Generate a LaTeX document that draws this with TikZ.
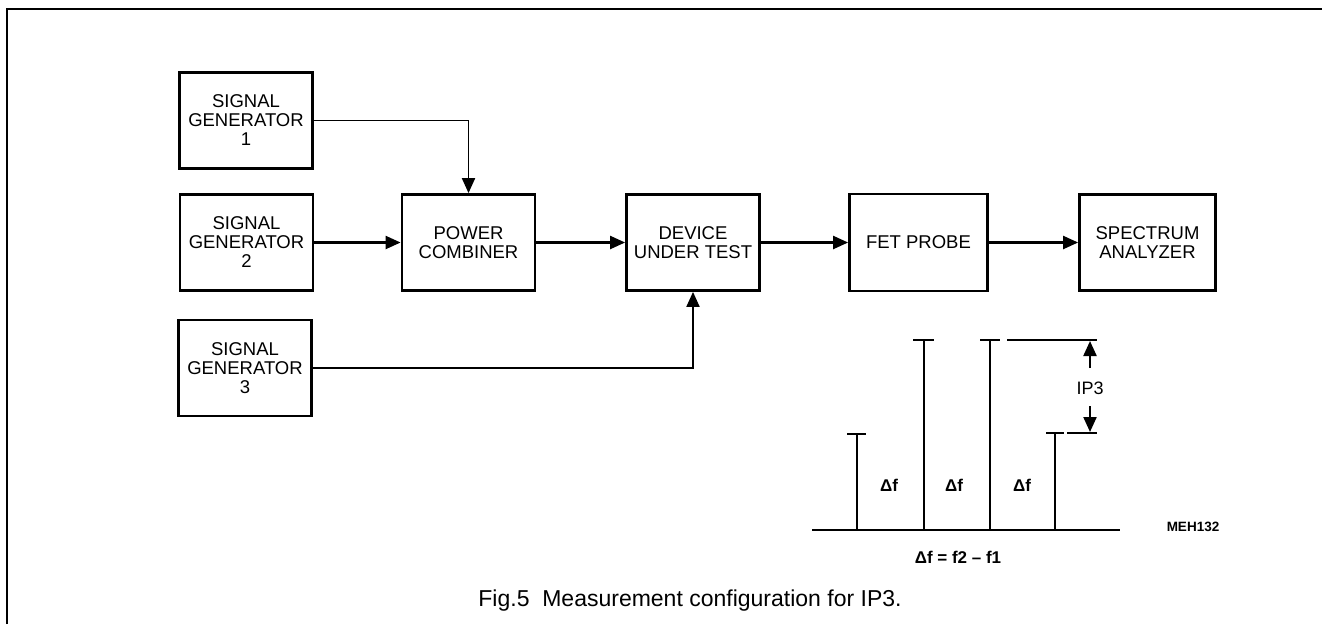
\documentclass[tikz,border=0pt]{standalone}
\usepackage{fontspec}
\setmainfont{Liberation Sans}
\usetikzlibrary{arrows.meta}
\begin{document}
\begin{tikzpicture}[x=1pt,y=-1pt,
  blk/.style={draw, line width=2.8pt, minimum width=133pt, minimum height=96pt,
    inner sep=0pt, align=center, font=\fontsize{18.5}{19}\selectfont},
  conn/.style={line width=2.2pt, -{Triangle[length=15pt,width=13pt]}},
  thinconn/.style={conn, line width=1.9pt},
  bar/.style={line width=2.2pt},
  barcap/.style={line width=2.5pt},
  dlab/.style={font=\fontsize{17}{17}\selectfont\bfseries, inner sep=0pt},
  lab/.style={font=\fontsize{18}{18}\selectfont, inner sep=0pt}]
\useasboundingbox (0,0) rectangle (1322,624);
% frame
\draw[line width=2.5pt] (7,624) -- (7,9) -- (1322,9);
% blocks
\node[blk] (sg1) at (246,120.5) {SIGNAL\\GENERATOR\\1};
\node[blk] (sg2) at (246.5,242.5) {SIGNAL\\GENERATOR\\2};
\node[blk] (sg3) at (245,368) {SIGNAL\\GENERATOR\\3};
\node[blk] (pc) at (468.5,242.5) {POWER\\COMBINER};
\node[blk] (dut) at (693,242.5) {DEVICE\\UNDER TEST};
\node[blk, minimum width=138pt, minimum height=97pt] (fet) at (918.5,242.5) {FET PROBE};
\node[blk, minimum width=136pt] (sa) at (1147.5,242.5) {SPECTRUM\\ANALYZER};
% connectors
\draw[thinconn] (sg1.east) -| (pc.north);
\draw[conn] (sg2) -- (pc);
\draw[conn] (pc) -- (dut);
\draw[thinconn] (sg3.east) -| (dut.south);
\draw[conn] (dut) -- (fet);
\draw[conn] (fet) -- (sa);
% spectrum sketch
\draw[line width=2.8pt] (812,530) -- (1120,530);
\draw[bar] (857,530) -- (857,434);
\draw[barcap] (847,434) -- (866,434);
\draw[bar] (924,530) -- (924,340);
\draw[barcap] (913,340) -- (934,340);
\draw[bar] (990,530) -- (990,340);
\draw[barcap] (980,340) -- (1000,340);
\draw[bar] (1055,530) -- (1055,433);
\draw[barcap] (1046,433) -- (1064,433);
\draw[barcap] (1007,340) -- (1097,340);
\draw[barcap] (1067,433) -- (1097,433);
\coordinate (ut) at (1090,341);
\coordinate (ub) at (1090,368);
\coordinate (lt) at (1090,406);
\coordinate (lb) at (1090,432);
\draw[conn] (ub) -- (ut);
\draw[conn] (lt) -- (lb);
\node[lab] (ip3) at (1090,388) {IP3};
\node[dlab] (d1) at (889,485) {Δf};
\node[dlab] (d2) at (954,485) {Δf};
\node[dlab] (d3) at (1022,485) {Δf};
\node[dlab] (deq) at (958,557) {Δf = f2 – f1};
\node[font=\fontsize{13.5}{13.5}\selectfont\bfseries, inner sep=0pt] (meh) at (1193,527) {MEH132};
% caption
\node[font=\fontsize{23}{23}\selectfont, inner sep=0pt] (caption) at (690,601) {Fig.5\ \ Measurement configuration for IP3.};
\end{tikzpicture}
\end{document}
